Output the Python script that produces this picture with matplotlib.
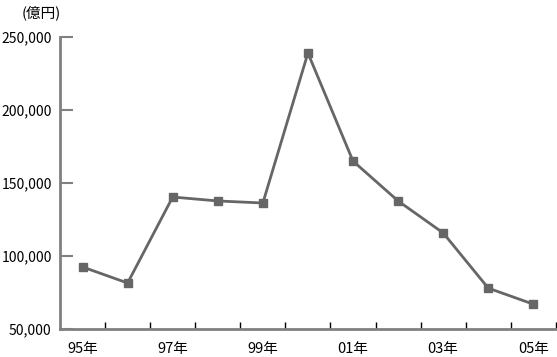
import numpy as np
import matplotlib
matplotlib.use('Agg')
from matplotlib import pyplot as plt

plt.rcParams['font.family'] = ['Noto Sans CJK JP', 'DejaVu Sans']

years = ['95年', '96年', '97年', '98年', '99年', '00年', '01年', '02年', '03年', '04年', '05年']
values = [92500, 81500, 140400, 137700, 136300, 239000, 165000, 137700, 115800, 78000, 67000]
y_ticks = [50000, 100000, 150000, 200000, 250000]

fig = plt.figure(figsize=(5.57, 3.57), dpi=100)
ax = fig.add_axes([0.1077, 0.0784, 0.8903, 0.818])

x = np.arange(len(years))
ax.plot(x, values, color='#666666', linewidth=2, marker='s', markersize=6,
        markerfacecolor='#666666', markeredgecolor='#666666')

ax.set_xlim(-0.5, len(years) - 0.5)
ax.set_ylim(50000, 250000)

# ラベルは奇数年のみ、目盛りはカテゴリ境界
ax.set_xticks(x[::2])
ax.set_xticklabels(years[::2])
ax.set_xticks(np.arange(0.5, len(years), 1), minor=True)
ax.tick_params(axis='x', which='major', length=0, pad=9, labelsize=10.5)
ax.tick_params(axis='x', which='minor', direction='in', length=5, width=1, color='black')

ax.set_yticks(y_ticks)
ax.set_yticklabels(['{:,}'.format(v) for v in y_ticks])
ax.tick_params(axis='y', direction='in', length=9, width=1.5, color='#808080', pad=6, labelsize=10)

for s in ['top', 'right']:
    ax.spines[s].set_visible(False)
for s in ['left', 'bottom']:
    ax.spines[s].set_color('#808080')
    ax.spines[s].set_linewidth(2)

fig.text(0.038, 0.965, '(億円)', fontsize=10.5, va='center', ha='left')

fig.savefig('out.png', dpi=100)
